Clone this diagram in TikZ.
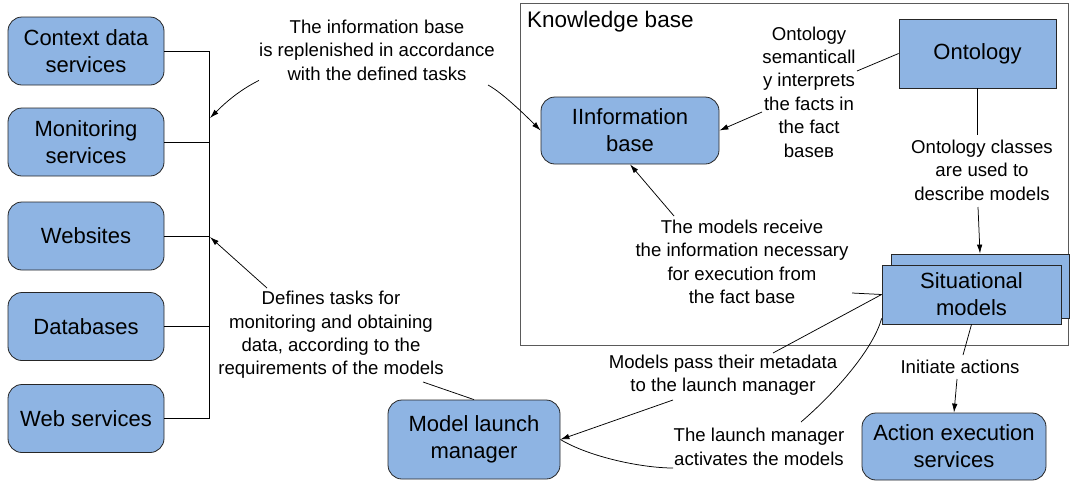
\documentclass[tikz,border=0pt]{standalone}
\usepackage{fontspec}
\setmainfont{Liberation Sans}
\usetikzlibrary{arrows.meta,calc}
\definecolor{boxblue}{HTML}{8EB4E3}
\definecolor{framegray}{HTML}{5A5A5A}
\begin{document}
\begin{tikzpicture}[x=1pt,y=-1pt,
  box/.style={draw=black!85,line width=0.8pt,fill=boxblue,rounded corners=14pt,
    inner sep=0pt,align=center,font=\fontsize{22}{27}\selectfont},
  sqbox/.style={box,rounded corners=0pt},
  lbl/.style={inner sep=0pt,align=center,font=\fontsize{18.6}{23.4}\selectfont},
  wire/.style={line width=0.75pt},
  arr/.style={wire,-{Latex[length=9pt,width=5.5pt]}},
]
\useasboundingbox (0,0) rectangle (1070,483);

% knowledge base container
\node[draw=framegray,line width=0.9pt,minimum width=548pt,minimum height=342pt,inner sep=0pt] (kb) at (794.5,174) {};
\node[inner sep=0pt,anchor=west,font=\fontsize{22.5}{27}\selectfont] (kbtitle) at (527,22) {Knowledge base};

% data sources
\node[box,minimum width=156pt,minimum height=68pt] (ctx) at (86,51) {Context data\\services};
\node[box,minimum width=156pt,minimum height=68pt] (mon) at (86,142) {Monitoring\\services};
\node[box,minimum width=156pt,minimum height=68pt] (web) at (86,236) {Websites};
\node[box,minimum width=156pt,minimum height=68pt] (db) at (86,326.5) {Databases};
\node[box,minimum width=156pt,minimum height=68pt] (wsv) at (86,418.5) {Web services};

% knowledge base content
\node[box,minimum width=178pt,minimum height=67pt] (info) at (630,130.5) {IInformation\\base};
\node[sqbox,minimum width=157pt,minimum height=69pt] (onto) at (977.5,53.5) {Ontology};
\node[sqbox,minimum width=178pt,minimum height=64pt] (sitb) at (980,286) {};
\node[sqbox,minimum width=179pt,minimum height=59pt] (sitf) at (971.5,294.5) {Situational\\models};

% lower row
\node[box,minimum width=172pt,minimum height=79pt] (mlm) at (474,439.5) {Model launch\\manager};
\node[box,minimum width=184pt,minimum height=67pt] (act) at (954,446.5) {Action execution\\services};

% labels
\node[lbl] (l1) at (377,50) {The information base\\is replenished in accordance\\with the defined tasks};
\node[lbl] (l2) at (331,335) {Defines tasks for\\monitoring and obtaining\\data, according to the\\requirements of the models};
\node[lbl] (l3) at (809,92) {Ontology\\semanticall\\y interprets\\the facts in\\the fact\\baseв};
\node[lbl] (l4) at (982,170) {Ontology classes\\are used to\\describe models};
\node[lbl] (l5) at (742,262) {The models receive\\the information necessary\\for execution from\\the fact base};
\node[lbl] (l6) at (723,375) {Models pass their metadata\\to the launch manager};
\node[lbl] (l7) at (759,447) {The launch manager\\activates the models};
\node[lbl] (l8) at (960,367) {Initiate actions};

% bus collecting the data sources
\coordinate (bx) at (209,0);
\foreach \n in {ctx,mon,web,db,wsv} \draw[wire] (\n.east) -- (\n.east -| bx);
\draw[wire] (ctx.east -| bx) -- (wsv.east -| bx);

% free ends of connectors at labels
\coordinate (busA) at (210,118);
\coordinate (busB) at (210,237);
\coordinate (l1e) at (488,85);
\coordinate (l2s) at (267,288);
\coordinate (l2e) at (423,382);
\coordinate (l3a) at (857,71);
\coordinate (l3b) at (762,112);
\coordinate (l4a) at (977.5,135);
\coordinate (l4b) at (978,207);
\coordinate (l5a) at (852,293);
\coordinate (l5b) at (674,216);
\coordinate (l6a) at (773,353);
\coordinate (l6b) at (673,400);
\coordinate (l7a) at (673,468);
\coordinate (l7b) at (801,422);
\coordinate (l8a) at (963,355);
\coordinate (l8b) at (957,379);

% information base -> sources
\draw[arr] (l1.south west) .. controls +(-20,10) and +(15,-15) .. (busA);
\draw[arr] (l1e) .. controls +(15,8) and +(-12,-12) .. (info.west);

% launch manager -> sources
\draw[wire] (mlm.north) -- (l2e);
\draw[arr] (l2s) -- (busB);

% ontology -> information base
\draw[wire] (onto.west) -- (l3a);
\draw[arr] (l3b) -- (info.east);

% ontology -> situational models
\draw[wire] (onto.south) -- (l4a);
\draw[arr] (l4b) -- (sitb.north);

% situational models -> information base
\draw[wire] (sitf.west) -- (l5a);
\draw[arr] (l5b) -- (info.south);

% situational models -> launch manager
\draw[wire] (sitf.west) -- (l6a);
\draw[arr] (l6b) -- (mlm.east);

% launch manager activates models
\draw[wire] (mlm.east) .. controls +(30,18) and +(-30,0) .. (l7a);
\draw[wire] (l7b) .. controls +(35,-30) and +(-8,30) .. ($(sitf.south west)+(0,-6)$);

% situational models -> actions
\draw[wire] (sitf.south) -- (l8a);
\draw[arr] (l8b) -- (act.north);
\end{tikzpicture}
\end{document}
